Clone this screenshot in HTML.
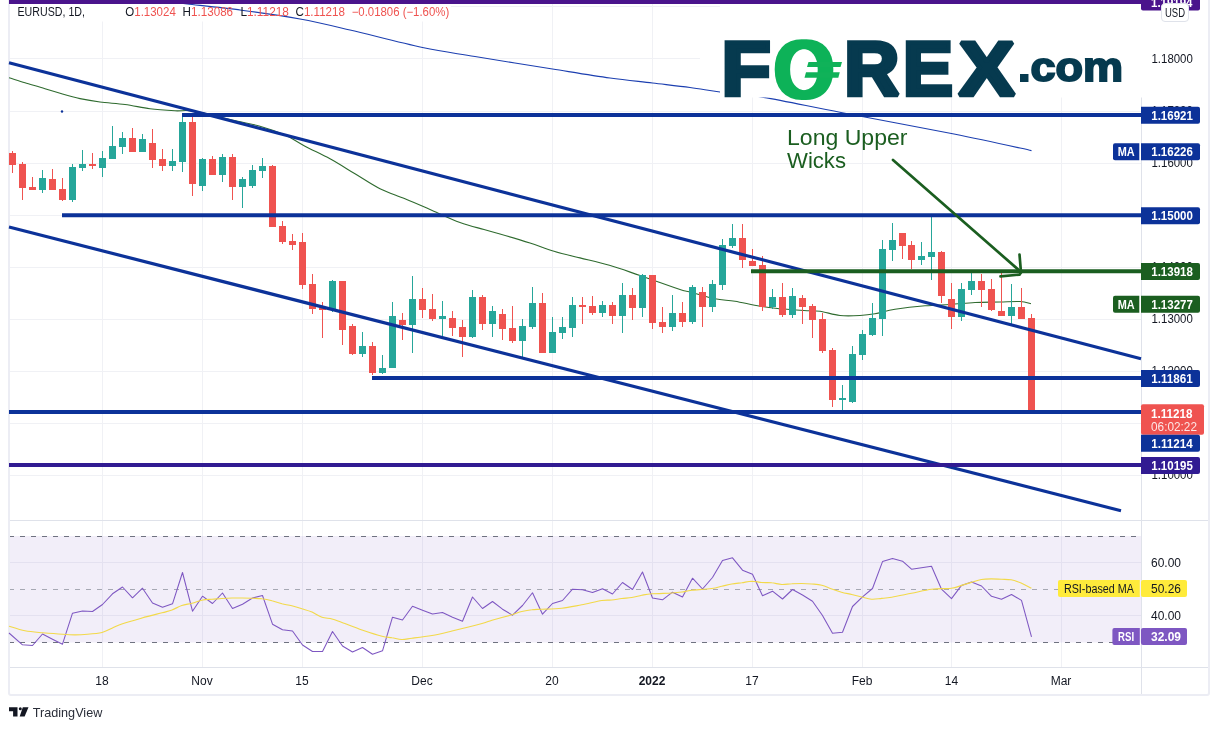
<!DOCTYPE html>
<html><head><meta charset="utf-8"><title>EURUSD Chart</title>
<style>html,body{margin:0;padding:0;background:#fff}svg{display:block}</style></head>
<body>
<svg width="1219" height="730" viewBox="0 0 1219 730" font-family='"Liberation Sans", sans-serif'>
<rect width="1219" height="730" fill="#fff"/>
<g stroke="#f0f1f5" stroke-width="1" shape-rendering="crispEdges">
<line x1="102.5" y1="4" x2="102.5" y2="667"/>
<line x1="202.5" y1="4" x2="202.5" y2="667"/>
<line x1="302.5" y1="4" x2="302.5" y2="667"/>
<line x1="422.5" y1="4" x2="422.5" y2="667"/>
<line x1="552.5" y1="4" x2="552.5" y2="667"/>
<line x1="652.5" y1="4" x2="652.5" y2="667"/>
<line x1="752.5" y1="4" x2="752.5" y2="667"/>
<line x1="862.5" y1="4" x2="862.5" y2="667"/>
<line x1="951.5" y1="4" x2="951.5" y2="667"/>
<line x1="1061.5" y1="4" x2="1061.5" y2="667"/>
<line x1="9" y1="6.5" x2="1141" y2="6.5"/>
<line x1="9" y1="58.5" x2="1141" y2="58.5"/>
<line x1="9" y1="111.5" x2="1141" y2="111.5"/>
<line x1="9" y1="163.5" x2="1141" y2="163.5"/>
<line x1="9" y1="215.5" x2="1141" y2="215.5"/>
<line x1="9" y1="267.5" x2="1141" y2="267.5"/>
<line x1="9" y1="319.5" x2="1141" y2="319.5"/>
<line x1="9" y1="371.5" x2="1141" y2="371.5"/>
<line x1="9" y1="423.5" x2="1141" y2="423.5"/>
<line x1="9" y1="475.5" x2="1141" y2="475.5"/>
<line x1="9" y1="562.5" x2="1141" y2="562.5"/>
<line x1="9" y1="615.5" x2="1141" y2="615.5"/>
</g>
<rect x="10" y="4" width="441" height="17.5" fill="#fff"/>
<rect x="700" y="56" width="21" height="5" fill="#fff"/>
<rect x="9" y="536" width="1132" height="106.5" fill="#7e57c2" fill-opacity="0.1"/>
<g stroke-width="1" stroke-dasharray="5 6" fill="none">
<line x1="9" y1="536.5" x2="1141" y2="536.5" stroke="#6f7280"/>
<line x1="9" y1="589.5" x2="1141" y2="589.5" stroke="#a6a8b3"/>
<line x1="9" y1="642.5" x2="1141" y2="642.5" stroke="#6f7280"/>
</g>
<g stroke="#dfe2ea" stroke-width="1" shape-rendering="crispEdges">
<line x1="1141.5" y1="4" x2="1141.5" y2="694"/>
<line x1="10" y1="520.5" x2="1208" y2="520.5"/>
<line x1="10" y1="667.5" x2="1208" y2="667.5"/>
</g>
<rect x="9" y="-6" width="1200" height="701" rx="2" fill="none" stroke="#ecedf4" stroke-width="2"/>
<path d="M9.0,77.8C11.7,78.6 19.0,81.0 25.0,82.8C31.0,84.6 38.8,86.8 45.0,88.7C51.2,90.6 56.7,92.3 62.5,94.0C68.3,95.7 73.8,97.3 80.0,98.6C86.2,99.9 92.5,101.0 100.0,102.0C107.5,103.0 116.7,103.4 125.0,104.5C133.3,105.6 141.7,107.7 150.0,108.8C158.3,109.8 168.3,110.4 175.0,110.8C181.7,111.1 184.2,110.1 190.0,110.8C195.8,111.4 203.3,113.0 210.0,114.5C216.7,116.0 221.7,117.5 230.0,119.5C238.3,121.5 250.8,123.7 260.0,126.2C269.2,128.8 277.5,131.7 285.0,135.0C292.5,138.3 297.5,142.3 305.0,146.2C312.5,150.2 321.7,154.2 330.0,158.8C338.3,163.3 346.7,168.8 355.0,173.8C363.3,178.8 371.7,184.6 380.0,188.8C388.3,192.9 396.7,195.3 405.0,198.8C413.3,202.2 420.8,205.5 430.0,209.5C439.2,213.5 451.0,219.2 460.0,222.5C469.0,225.8 477.3,227.6 484.0,229.5C490.7,231.4 492.3,231.8 500.0,234.0C507.7,236.2 521.0,240.1 530.0,243.0C539.0,245.9 545.7,248.8 554.0,251.2C562.3,253.7 570.8,255.6 580.0,257.9C589.2,260.2 599.4,262.4 609.4,265.3C619.4,268.2 628.2,271.5 640.0,275.5C651.8,279.5 671.7,286.8 680.0,289.5C688.3,292.2 684.2,290.5 690.0,292.0C695.8,293.5 707.5,297.2 715.0,298.8C722.5,300.3 727.5,300.0 735.0,301.2C742.5,302.5 752.5,305.0 760.0,306.2C767.5,307.5 772.7,308.0 780.0,308.8C787.3,309.5 797.3,310.1 804.0,310.5C810.7,310.9 814.0,310.4 820.0,311.2C826.0,312.1 833.3,314.8 840.0,315.5C846.7,316.2 854.2,315.8 860.0,315.5C865.8,315.2 869.2,314.8 875.0,313.8C880.8,312.7 886.7,310.6 895.0,309.2C903.3,307.9 915.8,306.5 925.0,305.8C934.2,305.0 941.7,305.0 950.0,304.5C958.3,304.0 966.7,302.9 975.0,302.5C983.3,302.1 992.5,302.2 1000.0,302.0C1007.5,301.8 1014.8,301.2 1020.0,301.5C1025.2,301.8 1029.2,303.4 1031.0,303.8" fill="none" stroke="#2f6b2f" stroke-width="1.1" />
<path d="M180.0,3.0C181.2,3.2 177.2,2.8 187.5,4.0C197.8,5.2 222.8,7.7 241.5,10.2C260.2,12.7 281.9,15.7 300.0,19.0C318.1,22.3 329.6,25.2 350.0,30.0C370.4,34.8 401.7,43.1 422.5,47.5C443.3,51.9 453.3,52.9 475.0,56.5C496.7,60.1 530.0,65.4 552.5,69.0C575.0,72.6 593.3,75.7 610.0,78.0C626.7,80.3 639.2,81.4 652.5,83.0C665.8,84.6 678.8,86.0 690.0,87.5C701.2,89.0 707.7,90.3 720.0,92.0C732.3,93.7 743.4,94.0 763.6,97.4C783.8,100.8 809.3,106.4 841.0,112.5C872.7,118.6 922.2,127.7 954.0,134.0C985.8,140.3 1018.6,147.8 1031.5,150.6" fill="none" stroke="#1c3fb0" stroke-width="1.1" />
<g shape-rendering="crispEdges">
<rect x="12" y="151" width="1" height="22" fill="#ef5350"/>
<rect x="9" y="153" width="7" height="12" fill="#ef5350"/>
<rect x="22" y="162" width="1" height="38" fill="#ef5350"/>
<rect x="19" y="164" width="7" height="24" fill="#ef5350"/>
<rect x="32" y="177" width="1" height="13" fill="#ef5350"/>
<rect x="29" y="187" width="7" height="3" fill="#ef5350"/>
<rect x="42" y="170" width="1" height="23" fill="#26a69a"/>
<rect x="39" y="178" width="7" height="12" fill="#26a69a"/>
<rect x="52" y="169" width="1" height="21" fill="#ef5350"/>
<rect x="49" y="179" width="7" height="11" fill="#ef5350"/>
<rect x="62" y="178" width="1" height="23" fill="#ef5350"/>
<rect x="59" y="189" width="7" height="11" fill="#ef5350"/>
<rect x="72" y="164" width="1" height="38" fill="#26a69a"/>
<rect x="69" y="167" width="7" height="33" fill="#26a69a"/>
<rect x="82" y="150" width="1" height="21" fill="#26a69a"/>
<rect x="79" y="164" width="7" height="4" fill="#26a69a"/>
<rect x="92" y="153" width="1" height="16" fill="#ef5350"/>
<rect x="89" y="164" width="7" height="2" fill="#ef5350"/>
<rect x="102" y="151" width="1" height="26" fill="#26a69a"/>
<rect x="99" y="158" width="7" height="10" fill="#26a69a"/>
<rect x="112" y="126" width="1" height="33" fill="#26a69a"/>
<rect x="109" y="146" width="7" height="13" fill="#26a69a"/>
<rect x="122" y="132" width="1" height="22" fill="#26a69a"/>
<rect x="119" y="138" width="7" height="9" fill="#26a69a"/>
<rect x="132" y="128" width="1" height="24" fill="#ef5350"/>
<rect x="129" y="138" width="7" height="14" fill="#ef5350"/>
<rect x="142" y="134" width="1" height="18" fill="#26a69a"/>
<rect x="139" y="139" width="7" height="13" fill="#26a69a"/>
<rect x="152" y="129" width="1" height="39" fill="#ef5350"/>
<rect x="149" y="143" width="7" height="17" fill="#ef5350"/>
<rect x="162" y="149" width="1" height="22" fill="#ef5350"/>
<rect x="159" y="159" width="7" height="7" fill="#ef5350"/>
<rect x="172" y="149" width="1" height="22" fill="#26a69a"/>
<rect x="169" y="161" width="7" height="5" fill="#26a69a"/>
<rect x="182" y="116" width="1" height="56" fill="#26a69a"/>
<rect x="179" y="122" width="7" height="40" fill="#26a69a"/>
<rect x="192" y="116" width="1" height="80" fill="#ef5350"/>
<rect x="189" y="122" width="7" height="62" fill="#ef5350"/>
<rect x="202" y="158" width="1" height="33" fill="#26a69a"/>
<rect x="199" y="159" width="7" height="27" fill="#26a69a"/>
<rect x="212" y="156" width="1" height="19" fill="#ef5350"/>
<rect x="209" y="159" width="7" height="16" fill="#ef5350"/>
<rect x="222" y="154" width="1" height="28" fill="#26a69a"/>
<rect x="219" y="157" width="7" height="18" fill="#26a69a"/>
<rect x="232" y="154" width="1" height="46" fill="#ef5350"/>
<rect x="229" y="157" width="7" height="30" fill="#ef5350"/>
<rect x="242" y="177" width="1" height="31" fill="#26a69a"/>
<rect x="239" y="179" width="7" height="8" fill="#26a69a"/>
<rect x="252" y="165" width="1" height="23" fill="#26a69a"/>
<rect x="249" y="170" width="7" height="16" fill="#26a69a"/>
<rect x="262" y="158" width="1" height="20" fill="#26a69a"/>
<rect x="259" y="166" width="7" height="5" fill="#26a69a"/>
<rect x="272" y="165" width="1" height="62" fill="#ef5350"/>
<rect x="269" y="166" width="7" height="61" fill="#ef5350"/>
<rect x="282" y="221" width="1" height="23" fill="#ef5350"/>
<rect x="279" y="226" width="7" height="16" fill="#ef5350"/>
<rect x="292" y="234" width="1" height="16" fill="#ef5350"/>
<rect x="289" y="241" width="7" height="4" fill="#ef5350"/>
<rect x="302" y="233" width="1" height="56" fill="#ef5350"/>
<rect x="299" y="242" width="7" height="43" fill="#ef5350"/>
<rect x="312" y="274" width="1" height="40" fill="#ef5350"/>
<rect x="309" y="284" width="7" height="25" fill="#ef5350"/>
<rect x="322" y="302" width="1" height="36" fill="#ef5350"/>
<rect x="319" y="308" width="7" height="2" fill="#ef5350"/>
<rect x="332" y="280" width="1" height="32" fill="#26a69a"/>
<rect x="329" y="281" width="7" height="28" fill="#26a69a"/>
<rect x="342" y="281" width="1" height="64" fill="#ef5350"/>
<rect x="339" y="281" width="7" height="49" fill="#ef5350"/>
<rect x="352" y="324" width="1" height="31" fill="#ef5350"/>
<rect x="349" y="326" width="7" height="28" fill="#ef5350"/>
<rect x="362" y="332" width="1" height="25" fill="#26a69a"/>
<rect x="359" y="346" width="7" height="8" fill="#26a69a"/>
<rect x="372" y="342" width="1" height="33" fill="#ef5350"/>
<rect x="369" y="346" width="7" height="27" fill="#ef5350"/>
<rect x="382" y="355" width="1" height="19" fill="#26a69a"/>
<rect x="379" y="368" width="7" height="5" fill="#26a69a"/>
<rect x="392" y="302" width="1" height="66" fill="#26a69a"/>
<rect x="389" y="316" width="7" height="52" fill="#26a69a"/>
<rect x="402" y="313" width="1" height="27" fill="#ef5350"/>
<rect x="399" y="320" width="7" height="5" fill="#ef5350"/>
<rect x="412" y="276" width="1" height="77" fill="#26a69a"/>
<rect x="409" y="299" width="7" height="26" fill="#26a69a"/>
<rect x="422" y="288" width="1" height="30" fill="#ef5350"/>
<rect x="419" y="299" width="7" height="11" fill="#ef5350"/>
<rect x="432" y="294" width="1" height="27" fill="#ef5350"/>
<rect x="429" y="309" width="7" height="10" fill="#ef5350"/>
<rect x="442" y="301" width="1" height="35" fill="#26a69a"/>
<rect x="439" y="316" width="7" height="3" fill="#26a69a"/>
<rect x="452" y="311" width="1" height="25" fill="#ef5350"/>
<rect x="449" y="318" width="7" height="10" fill="#ef5350"/>
<rect x="462" y="320" width="1" height="37" fill="#ef5350"/>
<rect x="459" y="327" width="7" height="10" fill="#ef5350"/>
<rect x="472" y="290" width="1" height="48" fill="#26a69a"/>
<rect x="469" y="297" width="7" height="40" fill="#26a69a"/>
<rect x="482" y="295" width="1" height="35" fill="#ef5350"/>
<rect x="479" y="297" width="7" height="27" fill="#ef5350"/>
<rect x="492" y="306" width="1" height="31" fill="#26a69a"/>
<rect x="489" y="311" width="7" height="13" fill="#26a69a"/>
<rect x="502" y="309" width="1" height="31" fill="#ef5350"/>
<rect x="499" y="314" width="7" height="15" fill="#ef5350"/>
<rect x="512" y="306" width="1" height="37" fill="#ef5350"/>
<rect x="509" y="328" width="7" height="13" fill="#ef5350"/>
<rect x="522" y="319" width="1" height="40" fill="#26a69a"/>
<rect x="519" y="326" width="7" height="15" fill="#26a69a"/>
<rect x="532" y="287" width="1" height="42" fill="#26a69a"/>
<rect x="529" y="303" width="7" height="24" fill="#26a69a"/>
<rect x="542" y="293" width="1" height="60" fill="#ef5350"/>
<rect x="539" y="303" width="7" height="50" fill="#ef5350"/>
<rect x="552" y="317" width="1" height="36" fill="#26a69a"/>
<rect x="549" y="332" width="7" height="21" fill="#26a69a"/>
<rect x="562" y="317" width="1" height="22" fill="#26a69a"/>
<rect x="559" y="327" width="7" height="6" fill="#26a69a"/>
<rect x="572" y="297" width="1" height="40" fill="#26a69a"/>
<rect x="569" y="305" width="7" height="23" fill="#26a69a"/>
<rect x="582" y="297" width="1" height="27" fill="#ef5350"/>
<rect x="579" y="305" width="7" height="2" fill="#ef5350"/>
<rect x="592" y="296" width="1" height="19" fill="#ef5350"/>
<rect x="589" y="306" width="7" height="7" fill="#ef5350"/>
<rect x="602" y="301" width="1" height="16" fill="#26a69a"/>
<rect x="599" y="305" width="7" height="8" fill="#26a69a"/>
<rect x="612" y="302" width="1" height="22" fill="#ef5350"/>
<rect x="609" y="305" width="7" height="11" fill="#ef5350"/>
<rect x="622" y="283" width="1" height="50" fill="#26a69a"/>
<rect x="619" y="295" width="7" height="21" fill="#26a69a"/>
<rect x="632" y="288" width="1" height="32" fill="#ef5350"/>
<rect x="629" y="295" width="7" height="13" fill="#ef5350"/>
<rect x="642" y="274" width="1" height="43" fill="#26a69a"/>
<rect x="639" y="275" width="7" height="33" fill="#26a69a"/>
<rect x="652" y="275" width="1" height="54" fill="#ef5350"/>
<rect x="649" y="275" width="7" height="48" fill="#ef5350"/>
<rect x="662" y="307" width="1" height="26" fill="#ef5350"/>
<rect x="659" y="322" width="7" height="5" fill="#ef5350"/>
<rect x="672" y="295" width="1" height="36" fill="#26a69a"/>
<rect x="669" y="313" width="7" height="14" fill="#26a69a"/>
<rect x="682" y="302" width="1" height="25" fill="#ef5350"/>
<rect x="679" y="313" width="7" height="9" fill="#ef5350"/>
<rect x="692" y="285" width="1" height="39" fill="#26a69a"/>
<rect x="689" y="287" width="7" height="35" fill="#26a69a"/>
<rect x="702" y="287" width="1" height="40" fill="#ef5350"/>
<rect x="699" y="292" width="7" height="15" fill="#ef5350"/>
<rect x="712" y="280" width="1" height="32" fill="#26a69a"/>
<rect x="709" y="284" width="7" height="23" fill="#26a69a"/>
<rect x="722" y="239" width="1" height="51" fill="#26a69a"/>
<rect x="719" y="245" width="7" height="40" fill="#26a69a"/>
<rect x="732" y="224" width="1" height="24" fill="#26a69a"/>
<rect x="729" y="238" width="7" height="8" fill="#26a69a"/>
<rect x="742" y="224" width="1" height="44" fill="#ef5350"/>
<rect x="739" y="238" width="7" height="22" fill="#ef5350"/>
<rect x="752" y="249" width="1" height="17" fill="#ef5350"/>
<rect x="749" y="261" width="7" height="5" fill="#ef5350"/>
<rect x="762" y="256" width="1" height="55" fill="#ef5350"/>
<rect x="759" y="265" width="7" height="42" fill="#ef5350"/>
<rect x="772" y="289" width="1" height="20" fill="#26a69a"/>
<rect x="769" y="297" width="7" height="10" fill="#26a69a"/>
<rect x="782" y="283" width="1" height="34" fill="#ef5350"/>
<rect x="779" y="297" width="7" height="18" fill="#ef5350"/>
<rect x="792" y="288" width="1" height="30" fill="#26a69a"/>
<rect x="789" y="296" width="7" height="19" fill="#26a69a"/>
<rect x="802" y="295" width="1" height="29" fill="#ef5350"/>
<rect x="799" y="298" width="7" height="9" fill="#ef5350"/>
<rect x="812" y="304" width="1" height="34" fill="#ef5350"/>
<rect x="809" y="306" width="7" height="14" fill="#ef5350"/>
<rect x="822" y="313" width="1" height="40" fill="#ef5350"/>
<rect x="819" y="319" width="7" height="32" fill="#ef5350"/>
<rect x="832" y="348" width="1" height="59" fill="#ef5350"/>
<rect x="829" y="350" width="7" height="50" fill="#ef5350"/>
<rect x="842" y="385" width="1" height="25" fill="#26a69a"/>
<rect x="839" y="398" width="7" height="2" fill="#26a69a"/>
<rect x="852" y="346" width="1" height="57" fill="#26a69a"/>
<rect x="849" y="354" width="7" height="48" fill="#26a69a"/>
<rect x="862" y="330" width="1" height="30" fill="#26a69a"/>
<rect x="859" y="334" width="7" height="21" fill="#26a69a"/>
<rect x="872" y="303" width="1" height="33" fill="#26a69a"/>
<rect x="869" y="318" width="7" height="17" fill="#26a69a"/>
<rect x="882" y="240" width="1" height="96" fill="#26a69a"/>
<rect x="879" y="249" width="7" height="70" fill="#26a69a"/>
<rect x="892" y="223" width="1" height="38" fill="#26a69a"/>
<rect x="889" y="240" width="7" height="10" fill="#26a69a"/>
<rect x="902" y="233" width="1" height="26" fill="#ef5350"/>
<rect x="899" y="233" width="7" height="13" fill="#ef5350"/>
<rect x="911" y="241" width="1" height="28" fill="#ef5350"/>
<rect x="908" y="245" width="7" height="15" fill="#ef5350"/>
<rect x="921" y="242" width="1" height="23" fill="#26a69a"/>
<rect x="918" y="256" width="7" height="4" fill="#26a69a"/>
<rect x="931" y="217" width="1" height="63" fill="#26a69a"/>
<rect x="928" y="252" width="7" height="5" fill="#26a69a"/>
<rect x="941" y="251" width="1" height="52" fill="#ef5350"/>
<rect x="938" y="252" width="7" height="44" fill="#ef5350"/>
<rect x="951" y="283" width="1" height="46" fill="#ef5350"/>
<rect x="948" y="299" width="7" height="18" fill="#ef5350"/>
<rect x="961" y="283" width="1" height="38" fill="#26a69a"/>
<rect x="958" y="289" width="7" height="28" fill="#26a69a"/>
<rect x="971" y="273" width="1" height="22" fill="#26a69a"/>
<rect x="968" y="281" width="7" height="9" fill="#26a69a"/>
<rect x="981" y="274" width="1" height="33" fill="#ef5350"/>
<rect x="978" y="281" width="7" height="9" fill="#ef5350"/>
<rect x="991" y="279" width="1" height="32" fill="#ef5350"/>
<rect x="988" y="289" width="7" height="21" fill="#ef5350"/>
<rect x="1001" y="273" width="1" height="43" fill="#ef5350"/>
<rect x="998" y="311" width="7" height="5" fill="#ef5350"/>
<rect x="1011" y="284" width="1" height="40" fill="#26a69a"/>
<rect x="1008" y="307" width="7" height="9" fill="#26a69a"/>
<rect x="1021" y="288" width="1" height="31" fill="#ef5350"/>
<rect x="1018" y="307" width="7" height="12" fill="#ef5350"/>
<rect x="1031" y="314" width="1" height="98" fill="#ef5350"/>
<rect x="1028" y="318" width="7" height="94" fill="#ef5350"/>
</g>
<g stroke="#0c3299" stroke-width="4" fill="none">
<line x1="9" y1="62.8" x2="1141" y2="358.8" stroke-width="3.2"/>
<line x1="9" y1="227" x2="1121" y2="510.7" stroke-width="3.2"/>
<line x1="182" y1="114.9" x2="1141" y2="114.9"/>
<line x1="62" y1="215.2" x2="1141" y2="215.2"/>
<line x1="372" y1="378" x2="1141" y2="378"/>
<line x1="9" y1="412" x2="1141" y2="412"/>
</g>
<line x1="9" y1="465" x2="1141" y2="465" stroke="#311b92" stroke-width="4"/>
<line x1="751" y1="271.2" x2="1141" y2="271.2" stroke="#1b5e20" stroke-width="4"/>
<circle cx="62" cy="111.5" r="1.2" fill="#0c3299"/>
<g stroke="#1b5e20" stroke-width="2.7" fill="none" stroke-linecap="round" stroke-linejoin="round">
<line x1="893" y1="160" x2="1021" y2="272"/>
<polyline points="1019.5,254.5 1021,272.5 1019.5,274.6 1000.5,276.3"/>
</g>
<text x="787" y="145.3" font-size="22" fill="#1b5e20" textLength="120.5" lengthAdjust="spacingAndGlyphs">Long Upper</text>
<text x="787" y="168" font-size="22" fill="#1b5e20" textLength="59" lengthAdjust="spacingAndGlyphs">Wicks</text>
<polyline points="9.0,633.0 22.5,644.8 32.5,645.5 42.5,634.0 52.5,639.2 62.5,644.2 72.5,613.2 82.5,611.0 92.5,611.5 102.5,604.5 112.5,593.8 122.5,587.0 132.5,597.8 142.5,588.2 152.5,603.0 162.5,607.2 172.5,603.8 182.5,572.5 192.5,611.2 202.5,596.2 212.5,603.5 222.5,593.0 232.5,608.5 242.5,604.2 252.5,598.0 262.5,595.5 272.5,624.2 282.5,629.8 292.5,631.0 302.5,645.0 312.5,651.5 322.5,651.5 332.5,631.5 342.5,646.0 352.5,652.0 362.5,647.5 372.5,654.2 382.5,650.8 392.5,617.2 402.5,620.0 412.5,606.2 422.5,610.2 432.5,614.0 442.5,612.5 452.5,617.2 462.5,621.2 472.5,597.0 482.5,608.5 492.5,601.5 502.5,609.2 512.5,615.2 522.5,605.5 532.5,592.8 542.5,614.2 552.5,603.5 562.5,600.5 572.5,589.2 582.5,589.8 592.5,592.5 602.5,588.8 612.5,594.0 622.5,582.5 632.5,589.5 642.5,572.0 652.5,598.0 662.5,599.8 672.5,592.2 682.5,597.0 692.5,578.2 702.5,589.0 712.5,577.5 722.5,560.5 732.5,557.8 742.5,570.2 752.5,574.2 762.5,595.8 772.5,591.2 782.5,599.0 792.5,589.5 802.5,595.0 812.5,601.2 822.5,615.5 832.5,633.2 842.5,632.2 852.5,606.5 862.5,596.8 872.5,588.5 882.5,561.6 892.5,558.6 902.5,561.2 911.5,569.2 921.5,567.7 931.5,566.2 941.5,589.2 951.5,598.6 961.5,585.4 971.5,582.1 981.5,586.0 991.5,596.3 1001.5,599.2 1011.5,594.5 1021.5,600.4 1031.5,636.9" fill="none" stroke="#7e57c2" stroke-width="1.05" stroke-linejoin="round" />
<path d="M9.0,626.2C11.7,627.0 19.4,629.7 25.0,630.8C30.6,631.8 36.2,632.2 42.5,632.8C48.8,633.3 57.1,633.9 62.5,634.2C67.9,634.6 70.8,634.8 75.0,634.8C79.2,634.8 83.0,634.6 87.5,634.2C92.0,633.9 97.9,633.5 102.0,632.5C106.1,631.5 108.7,629.7 112.0,628.2C115.3,626.8 116.8,625.7 121.8,624.0C126.8,622.3 135.3,619.9 142.0,618.0C148.7,616.1 157.0,614.1 162.0,612.8C167.0,611.4 168.7,611.2 172.0,610.0C175.3,608.8 178.4,606.6 181.8,605.5C185.1,604.4 188.6,604.1 192.0,603.2C195.4,602.4 198.7,600.9 202.0,600.2C205.3,599.6 208.7,599.5 212.0,599.2C215.3,599.0 218.4,598.7 221.8,598.5C225.1,598.3 228.6,598.1 232.0,598.0C235.4,597.9 238.7,598.0 242.0,598.0C245.3,598.0 248.7,598.1 252.0,598.2C255.3,598.4 258.4,598.3 261.8,598.8C265.1,599.2 268.6,599.9 272.0,600.8C275.4,601.6 278.7,602.9 282.0,603.8C285.3,604.6 288.4,604.9 291.8,605.8C295.1,606.6 298.6,607.7 302.0,608.8C305.4,609.8 308.7,610.6 312.0,612.0C315.3,613.4 318.7,616.1 322.0,617.2C325.3,618.4 328.7,618.1 332.0,619.0C335.3,619.9 337.0,620.7 342.0,622.5C347.0,624.3 355.3,627.7 362.0,630.0C368.7,632.3 377.0,635.0 382.0,636.2C387.0,637.5 388.7,637.2 392.0,637.8C395.3,638.3 398.4,639.4 401.8,639.5C405.1,639.6 407.0,638.9 412.0,638.2C417.0,637.6 425.3,636.7 432.0,635.5C438.7,634.3 443.7,633.0 452.0,631.0C460.3,629.0 475.3,625.3 482.0,623.5C488.7,621.7 487.0,621.7 492.0,620.2C497.0,618.8 506.8,616.2 511.8,614.8C516.7,613.3 518.4,612.3 521.8,611.5C525.1,610.7 528.4,610.1 531.8,609.8C535.1,609.4 536.8,609.5 541.8,609.2C546.8,609.0 555.1,609.0 561.8,608.2C568.4,607.5 575.1,606.0 581.8,604.8C588.4,603.5 596.8,601.3 601.8,600.5C606.8,599.7 608.4,600.3 611.8,600.0C615.1,599.7 618.4,598.9 621.8,598.5C625.1,598.1 628.4,598.0 631.8,597.5C635.1,597.0 638.4,595.9 641.8,595.2C645.1,594.6 646.8,594.1 651.8,593.8C656.8,593.4 666.8,593.3 671.8,593.0C676.8,592.7 678.4,592.5 681.8,592.0C685.1,591.5 686.8,590.8 691.8,590.2C696.8,589.7 706.8,589.2 711.8,588.5C716.8,587.8 718.4,587.0 721.8,586.2C725.1,585.5 728.4,584.6 731.8,584.0C735.1,583.4 738.4,583.2 741.8,582.8C745.1,582.3 748.4,581.3 751.8,581.2C755.1,581.2 758.4,582.2 761.8,582.5C765.1,582.8 768.4,582.4 771.8,582.8C775.1,583.1 778.4,584.3 781.8,584.5C785.1,584.7 788.4,583.9 791.8,583.8C795.1,583.6 798.4,583.5 801.8,583.5C805.1,583.5 808.4,583.7 811.8,584.0C815.1,584.3 818.4,584.4 821.8,585.2C825.1,586.1 828.5,587.8 831.8,589.0C835.0,590.2 838.2,591.3 841.5,592.2C844.8,593.2 848.4,593.7 851.8,594.5C855.1,595.3 858.5,596.2 861.8,597.0C865.0,597.8 868.2,599.0 871.5,599.2C874.8,599.5 878.4,598.7 881.8,598.4C885.2,598.1 886.8,598.1 891.8,597.2C896.8,596.4 904.9,594.6 911.5,593.3C918.1,592.0 925.0,590.0 931.6,589.2C938.2,588.4 946.3,588.9 951.3,588.3C956.3,587.7 958.3,586.4 961.6,585.4C964.9,584.4 968.0,583.4 971.3,582.4C974.6,581.4 978.0,580.1 981.3,579.5C984.6,578.9 987.9,578.9 991.3,578.9C994.6,578.9 998.1,579.1 1001.4,579.2C1004.7,579.4 1007.8,579.2 1011.1,579.8C1014.4,580.4 1017.7,581.6 1021.1,583.0C1024.5,584.4 1029.7,587.4 1031.4,588.3" fill="none" stroke="#f2d94a" stroke-width="1.15" />
<rect x="9" y="0" width="1132" height="4" fill="#4a148c"/>
<rect x="720" y="4" width="422" height="93.5" fill="#fff"/>
<g font-weight="bold" font-size="76.3" fill="#063a4f" stroke="#063a4f" stroke-width="4.5" stroke-linejoin="miter" stroke-miterlimit="1.5"><text transform="translate(721.43,95.45) scale(1.0557,1)" vector-effect="non-scaling-stroke">F</text><filter id="fat" x="-10%" y="-10%" width="120%" height="120%"><feMorphology operator="dilate" radius="2 0"/></filter><text transform="translate(773.38,98.6) scale(0.9275,1)" font-size="84.7" fill="#10b259" stroke="none" filter="url(#fat)">O</text><text transform="translate(844.22,95.45) scale(0.9994,1)" vector-effect="non-scaling-stroke">R</text><text transform="translate(903.02,95.45) scale(0.9795,1)" vector-effect="non-scaling-stroke">E</text><text transform="translate(958.78,95.45) scale(1.0992,1)" vector-effect="non-scaling-stroke">X</text></g><polygon points="808.5,62 842,62 840.5,66.9 807,66.9" fill="#10b259"/><polygon points="806,72.3 839.8,72.3 838.3,77.7 804.5,77.7" fill="#10b259"/><text transform="translate(1017.98,81.00) scale(1.1276,1)" font-size="40.0" font-weight="bold" fill="#063a4f" stroke="#063a4f" stroke-width="2.0" vector-effect="non-scaling-stroke">.com</text>
<g font-size="12" fill="#131722">
<text x="17.5" y="15.9" textLength="67.5" lengthAdjust="spacingAndGlyphs">EURUSD, 1D,</text>
<text x="125.3" y="15.9" textLength="50.5" lengthAdjust="spacingAndGlyphs">O<tspan fill="#ef5350">1.13024</tspan></text>
<text x="182.6" y="15.9" textLength="50.5" lengthAdjust="spacingAndGlyphs">H<tspan fill="#ef5350">1.13086</tspan></text>
<text x="240.4" y="15.9" textLength="48.5" lengthAdjust="spacingAndGlyphs">L<tspan fill="#ef5350">1.11218</tspan></text>
<text x="295.5" y="15.9" textLength="49.5" lengthAdjust="spacingAndGlyphs">C<tspan fill="#ef5350">1.11218</tspan></text>
<text x="351.7" y="15.9" fill="#ef5350" textLength="97.5" lengthAdjust="spacingAndGlyphs">−0.01806 (−1.60%)</text>
</g>
<g font-size="12" fill="#131722">
<text x="1151.5" y="62.5" textLength="41.3" lengthAdjust="spacingAndGlyphs">1.18000</text>
<text x="1151.5" y="114.6" textLength="41.3" lengthAdjust="spacingAndGlyphs">1.17000</text>
<text x="1151.5" y="166.7" textLength="41.3" lengthAdjust="spacingAndGlyphs">1.16000</text>
<text x="1151.5" y="218.8" textLength="41.3" lengthAdjust="spacingAndGlyphs">1.15000</text>
<text x="1151.5" y="270.9" textLength="41.3" lengthAdjust="spacingAndGlyphs">1.14000</text>
<text x="1151.5" y="323.0" textLength="41.3" lengthAdjust="spacingAndGlyphs">1.13000</text>
<text x="1151.5" y="375.1" textLength="41.3" lengthAdjust="spacingAndGlyphs">1.12000</text>
<text x="1151.5" y="427.2" textLength="41.3" lengthAdjust="spacingAndGlyphs">1.11000</text>
<text x="1151.5" y="479.3" textLength="41.3" lengthAdjust="spacingAndGlyphs">1.10000</text>
<text x="1151" y="566.8" textLength="30" lengthAdjust="spacingAndGlyphs">60.00</text>
<text x="1151" y="619.7" textLength="30" lengthAdjust="spacingAndGlyphs">40.00</text>
</g>
<rect x="1141" y="-6.4" width="59" height="17" rx="2" fill="#4a148c"/>
<text x="1151" y="6.5" font-size="12" font-weight="bold" fill="#fff" textLength="41.5" lengthAdjust="spacingAndGlyphs">1.19194</text>
<path d="M1141 106.7h57a2 2 0 0 1 2 2v13a2 2 0 0 1 -2 2h-57z" fill="#0c3299"/>
<text x="1151.3" y="119.8" font-size="12" font-weight="bold" fill="#fff" textLength="41.5" lengthAdjust="spacingAndGlyphs">1.16921</text>
<path d="M1139.3 143.2h-24.3a2 2 0 0 0 -2 2v13a2 2 0 0 0 2 2h24.3z" fill="#0c3299"/>
<text x="1126.15" y="156.0" font-size="12" font-weight="bold" fill="#fff" text-anchor="middle" textLength="17" lengthAdjust="spacingAndGlyphs">MA</text>
<path d="M1141 143.2h57a2 2 0 0 1 2 2v13a2 2 0 0 1 -2 2h-57z" fill="#0c3299"/>
<text x="1151.3" y="156.3" font-size="12" font-weight="bold" fill="#fff" textLength="41.5" lengthAdjust="spacingAndGlyphs">1.16226</text>
<path d="M1141 207.2h57a2 2 0 0 1 2 2v13a2 2 0 0 1 -2 2h-57z" fill="#0c3299"/>
<text x="1151.3" y="220.3" font-size="12" font-weight="bold" fill="#fff" textLength="41.5" lengthAdjust="spacingAndGlyphs">1.15000</text>
<path d="M1141 263.0h57a2 2 0 0 1 2 2v13a2 2 0 0 1 -2 2h-57z" fill="#1b5e20"/>
<text x="1151.3" y="276.1" font-size="12" font-weight="bold" fill="#fff" textLength="41.5" lengthAdjust="spacingAndGlyphs">1.13918</text>
<path d="M1139.3 295.7h-24.3a2 2 0 0 0 -2 2v13a2 2 0 0 0 2 2h24.3z" fill="#1b5e20"/>
<text x="1126.15" y="308.5" font-size="12" font-weight="bold" fill="#fff" text-anchor="middle" textLength="17" lengthAdjust="spacingAndGlyphs">MA</text>
<path d="M1141 295.7h57a2 2 0 0 1 2 2v13a2 2 0 0 1 -2 2h-57z" fill="#1b5e20"/>
<text x="1151.3" y="308.8" font-size="12" font-weight="bold" fill="#fff" textLength="41.5" lengthAdjust="spacingAndGlyphs">1.13277</text>
<path d="M1141 370.0h57a2 2 0 0 1 2 2v13a2 2 0 0 1 -2 2h-57z" fill="#0c3299"/>
<text x="1151.3" y="383.1" font-size="12" font-weight="bold" fill="#fff" textLength="41.5" lengthAdjust="spacingAndGlyphs">1.11861</text>
<rect x="1141" y="404.2" width="63" height="30.6" rx="2" fill="#ef5350"/>
<text x="1151" y="417.5" font-size="12" font-weight="bold" fill="#fff" textLength="41.5" lengthAdjust="spacingAndGlyphs">1.11218</text>
<text x="1151" y="431" font-size="12" fill="#fff" fill-opacity="0.85" textLength="46" lengthAdjust="spacingAndGlyphs">06:02:22</text>
<path d="M1141 434.8h57a2 2 0 0 1 2 2v13a2 2 0 0 1 -2 2h-57z" fill="#0c3299"/>
<text x="1151.3" y="447.9" font-size="12" font-weight="bold" fill="#fff" textLength="41.5" lengthAdjust="spacingAndGlyphs">1.11214</text>
<path d="M1141 457.0h57a2 2 0 0 1 2 2v13a2 2 0 0 1 -2 2h-57z" fill="#311b92"/>
<text x="1151.3" y="470.1" font-size="12" font-weight="bold" fill="#fff" textLength="41.5" lengthAdjust="spacingAndGlyphs">1.10195</text>
<path d="M1139.8 580.1h-79.8a2 2 0 0 0 -2 2v13a2 2 0 0 0 2 2h79.8z" fill="#ffeb3b"/>
<text x="1098.9" y="592.9" font-size="12" font-weight="normal" fill="#131722" text-anchor="middle" textLength="70" lengthAdjust="spacingAndGlyphs">RSI-based MA</text>
<rect x="1141" y="580.1" width="46" height="17" rx="2" fill="#ffeb3b"/>
<text x="1151" y="592.9" font-size="12" fill="#131722" textLength="30" lengthAdjust="spacingAndGlyphs">50.26</text>
<path d="M1139.8 628.0h-25.4a2 2 0 0 0 -2 2v13a2 2 0 0 0 2 2h25.4z" fill="#7e57c2"/>
<text x="1126.1" y="640.8" font-size="12" font-weight="bold" fill="#fff" text-anchor="middle" textLength="16" lengthAdjust="spacingAndGlyphs">RSI</text>
<rect x="1141" y="628" width="46" height="17" rx="2" fill="#7e57c2"/>
<text x="1151" y="640.8" font-size="12" font-weight="bold" fill="#fff" textLength="30" lengthAdjust="spacingAndGlyphs">32.09</text>
<rect x="1161.5" y="3.5" width="27" height="18" rx="3.5" fill="#fff" stroke="#dfe2ea"/>
<text x="1165" y="16.8" font-size="12.5" fill="#131722" textLength="20" lengthAdjust="spacingAndGlyphs">USD</text>
<g font-size="12" fill="#131722" text-anchor="middle">
<text x="102" y="685">18</text>
<text x="202" y="685">Nov</text>
<text x="302" y="685">15</text>
<text x="422" y="685">Dec</text>
<text x="552" y="685">20</text>
<text x="652" y="685" font-weight="bold">2022</text>
<text x="752" y="685">17</text>
<text x="862" y="685">Feb</text>
<text x="951.5" y="685">14</text>
<text x="1061" y="685">Mar</text>
</g>
<g fill="#131722">
<path d="M9 707.3h8.5v9.2h-4.4v-5.3h-4.1z"/>
<circle cx="20.3" cy="708.8" r="1.5"/>
<path d="M22.8 707.3h5.7l-3.9 9.2h-4.9z"/>
</g>
<text x="32.8" y="716.5" font-size="13" fill="#2a2e39" textLength="69.5" lengthAdjust="spacingAndGlyphs">TradingView</text>
</svg>
</body></html>
